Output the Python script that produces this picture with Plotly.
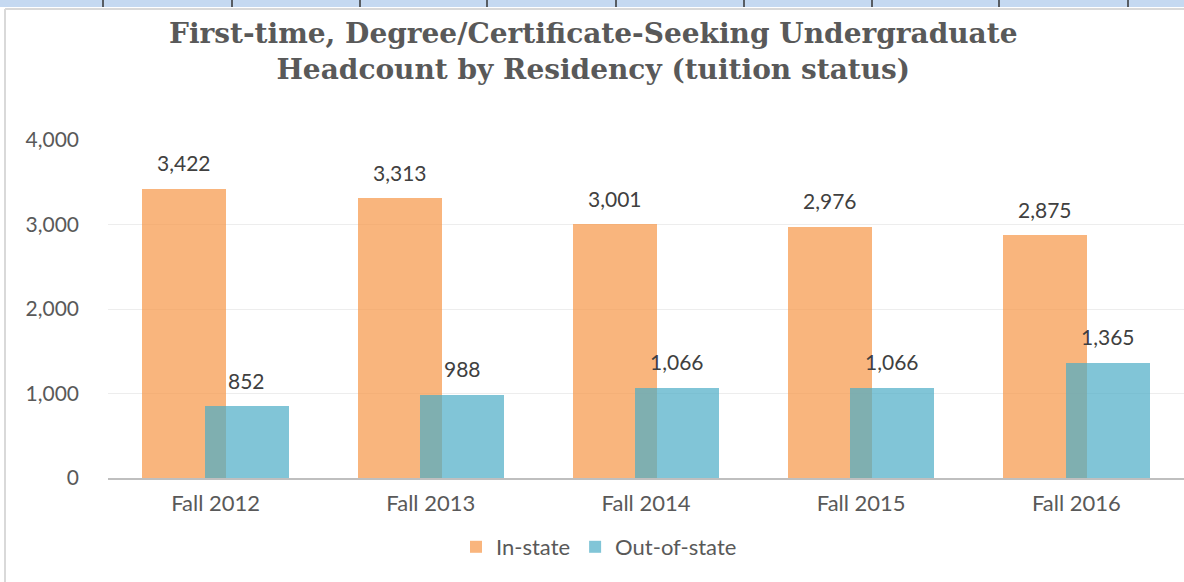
import plotly.graph_objects as go

W, H = 1184, 582
ML, MR, MT, MB = 108, 0, 140, 104

COLORS = {
    "orange": "rgba(247,150,70,0.7)",
    "blue": "rgba(75,172,198,0.7)",
    "title": "#595959",
    "tick": "#595959",
    "label": "#404040",
    "grid": "#EDEDED",
    "axis": "#BFBFBF",
    "strip": "#C5D9F1",
}

years = ["Fall 2012", "Fall 2013", "Fall 2014", "Fall 2015", "Fall 2016"]
in_state = [3422, 3313, 3001, 2976, 2875]
out_state = [852, 988, 1066, 1066, 1365]
y_ticks = [0, 1000, 2000, 3000, 4000]

BAR_W = 0.39
SHIFT = 0.145

PW, PH = W - ML - MR, H - MT - MB


def px_x(px):
    return (px - ML) / PW


def px_y(py):
    return (H - MB - py) / PH


idx = list(range(len(years)))

fig = go.Figure()
fig.add_trace(go.Bar(x=idx, y=in_state, name="In-state",
                     marker=dict(color=COLORS["orange"], line_width=0),
                     width=BAR_W, offset=-SHIFT - BAR_W / 2))
fig.add_trace(go.Bar(x=idx, y=out_state, name="Out-of-state",
                     marker=dict(color=COLORS["blue"], line_width=0),
                     width=BAR_W, offset=SHIFT - BAR_W / 2))

# data labels above the bars
for i in idx:
    for val, dx in ((in_state[i], -SHIFT), (out_state[i], SHIFT)):
        fig.add_annotation(x=i + dx, y=val, text=f"{val:,}", showarrow=False,
                           yanchor="middle", yshift=26,
                           font=dict(family="Lato", size=21, color=COLORS["label"]))

# chart title (annotation so both lines anchor cleanly)
fig.add_annotation(text="First-time, Degree/Certificate-Seeking Undergraduate<br>Headcount by Residency (tuition status)",
                   xref="paper", yref="paper", x=px_x(593), y=px_y(15),
                   xanchor="center", yanchor="top", showarrow=False,
                   font=dict(family="DejaVu Serif", size=28, color=COLORS["title"], weight="bold"))

shapes = [
    # spreadsheet header strip
    dict(type="rect", xref="paper", yref="paper", x0=px_x(0), x1=px_x(W),
         y0=px_y(0), y1=px_y(7), fillcolor=COLORS["strip"], line_width=0, layer="below"),
    # chart border
    dict(type="line", xref="paper", yref="paper", x0=px_x(5), x1=px_x(W),
         y0=px_y(9), y1=px_y(9), line=dict(color="#D9D9D9", width=2)),
    dict(type="line", xref="paper", yref="paper", x0=px_x(5), x1=px_x(5),
         y0=px_y(9), y1=px_y(H), line=dict(color="#D9D9D9", width=2)),
]
for xd in [103, 232, 360, 487, 616, 744, 872, 999, 1128]:
    shapes.append(dict(type="line", xref="paper", yref="paper", x0=px_x(xd), x1=px_x(xd),
                       y0=px_y(0), y1=px_y(7), line=dict(color="#333333", width=1.5)))

fig.update_layout(
    width=W, height=H,
    margin=dict(l=ML, r=MR, t=MT, b=MB),
    paper_bgcolor="white", plot_bgcolor="white",
    barmode="overlay",
    bargap=0,
    font=dict(family="Lato", color=COLORS["tick"], size=21),
    legend=dict(orientation="h", x=px_x(599), xanchor="center", y=px_y(547), yanchor="middle",
                font=dict(size=22, color=COLORS["tick"]), itemwidth=30, traceorder="normal"),
    shapes=shapes,
    showlegend=True,
)

fig.update_xaxes(tickmode="array", tickvals=idx, ticktext=years, range=[-0.5, 4.5],
                 showgrid=False, showline=True, linecolor=COLORS["axis"], linewidth=2,
                 ticks="", ticklabelstandoff=5, tickfont=dict(size=22))
fig.update_yaxes(range=[0, 4000], tickvals=y_ticks, tickformat=",",
                 showgrid=True, gridcolor=COLORS["grid"], gridwidth=1,
                 zeroline=False, showline=False, ticks="", ticklabelstandoff=28,
                 tickfont=dict(size=21))

# page has a default 8px body margin; drop it so the figure sits at the window origin
fig.write_html("out.html", config={"displayModeBar": False},
               post_script="document.body.style.margin='0';")
